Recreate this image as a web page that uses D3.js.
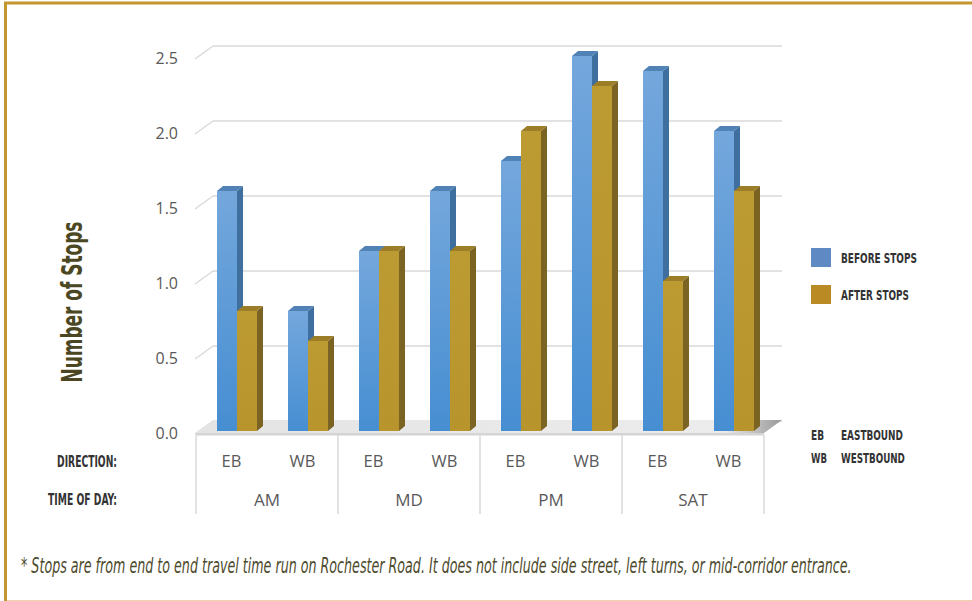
<!DOCTYPE html>
<html>
<head>
<meta charset="utf-8">
<script src="https://cdnjs.cloudflare.com/ajax/libs/d3/7.8.5/d3.min.js"></script>
<style>
  html, body { margin: 0; padding: 0; background: #fff; }
  svg { display: block; }
  .cond { font-family: 'Liberation Sans Narrow', 'DejaVu Sans Condensed', 'Roboto', sans-serif; font-stretch: condensed; }
  .plain { font-family: 'Open Sans', 'Liberation Sans', sans-serif; }
</style>
</head>
<body>
<svg id="chart" width="972" height="601"></svg>
<script>
// Time-of-day periods and travel directions
const periods = ["AM", "MD", "PM", "SAT"];
const directions = ["EB", "WB"];
// Number of stops per period/direction (AM EB, AM WB, MD EB, ...)
const beforeStops = [1.6, 0.8, 1.2, 1.6, 1.8, 2.5, 2.4, 2.0];
const afterStops  = [0.8, 0.6, 1.2, 1.2, 2.0, 2.3, 1.0, 1.6];
const yTicks = [0, 0.5, 1.0, 1.5, 2.0, 2.5];
const seriesNames = ["BEFORE STOPS", "AFTER STOPS"];
const directionNames = [["EB", "EASTBOUND"], ["WB", "WESTBOUND"]];
const footnote = "* Stops are from end to end travel time run on Rochester Road. It does not include side street, left turns, or mid-corridor entrance.";

const svg = d3.select("#chart");
const defs = svg.append("defs");

const keys = periods.flatMap(p => directions.map(d => p + " " + d));

// Scales for the front plane of the 3-D column chart
const x = d3.scaleBand().domain(keys).range([196, 764]).paddingInner(0).paddingOuter(0);
const y = d3.scaleLinear().domain([0, 2.5]).range([433, 58]);

// Perspective offsets
const back = { dx: 18, dy: -13 };   // back wall
const barOff = { dx: 5.5, dy: -2 }; // bar front face relative to front plane
const barDepth = { dx: 6, dy: -5 }; // bar depth
const barW = 20;

// Condensed text: draw at natural width, then squeeze horizontally to the target width
function condText(parent, tx, ty, str, size, width, opts = {}) {
  const g = parent.append("g");
  const t = g.append("text").attr("class", "cond").attr("font-size", size)
    .attr("fill", opts.fill || "#333")
    .attr("font-weight", opts.weight || "normal")
    .attr("font-style", opts.style || "normal")
    .attr("text-anchor", opts.anchor || "start")
    .text(str);
  const w = t.node().getComputedTextLength();
  const sx = width / w;
  g.attr("transform", `translate(${tx},${ty})${opts.rotate ? " rotate(" + opts.rotate + ")" : ""} scale(${sx},1)`);
  return g;
}

// Gradients
function vGrad(id, c0, c1) {
  const g = defs.append("linearGradient").attr("id", id)
    .attr("x1", 0).attr("y1", 0).attr("x2", 0).attr("y2", 1);
  g.append("stop").attr("offset", "0%").attr("stop-color", c0);
  g.append("stop").attr("offset", "100%").attr("stop-color", c1);
}
vGrad("blueFront", "#74a7dc", "#468ed2");
vGrad("goldFront", "#bd9b33", "#b8952c");
const fg = defs.append("linearGradient").attr("id", "floorGrad")
  .attr("x1", 0).attr("y1", 0).attr("x2", 1).attr("y2", 0);
fg.append("stop").attr("offset", "0%").attr("stop-color", "#e4e4e4");
fg.append("stop").attr("offset", "90%").attr("stop-color", "#ececec");
fg.append("stop").attr("offset", "100%").attr("stop-color", "#9a9a9a");

// Frame lines
svg.append("line").attr("x1", 4).attr("x2", 972).attr("y1", 3).attr("y2", 3)
  .attr("stroke", "#c4962f").attr("stroke-width", 3);
svg.append("line").attr("x1", 5.5).attr("x2", 5.5).attr("y1", 2).attr("y2", 601)
  .attr("stroke", "#c4962f").attr("stroke-width", 3);
svg.append("line").attr("x1", 7).attr("x2", 972).attr("y1", 600.5).attr("y2", 600.5)
  .attr("stroke", "#ecd5a8").attr("stroke-width", 1);

// Back-wall gridlines with side-wall diagonals
const xL = x.range()[0], xR = x.range()[1];
const grid = svg.append("g");
yTicks.forEach(t => {
  const yf = y(t) + 1;
  grid.append("line").attr("x1", xL - 1).attr("y1", yf).attr("x2", xL + back.dx - 1).attr("y2", yf + back.dy)
    .attr("stroke", "#d9d9d9").attr("stroke-width", 1.5);
  grid.append("line").attr("x1", xL + back.dx - 1).attr("y1", yf + back.dy).attr("x2", xR + back.dx).attr("y2", yf + back.dy)
    .attr("stroke", "#d9d9d9").attr("stroke-width", 1.5);
});

// Floor plate
const y0 = y(0);
svg.append("polygon")
  .attr("points", [[xL, y0], [xR, y0], [xR + back.dx, y0 + back.dy], [xL + back.dx, y0 + back.dy]].map(p => p.join(",")).join(" "))
  .attr("fill", "url(#floorGrad)");
svg.append("rect").attr("x", xL).attr("y", y0).attr("width", xR - xL).attr("height", 2.5).attr("fill", "#d4d4d4");

// Bars
const colors = {
  blue: { front: "url(#blueFront)", side: "#3f6f9e", top: "#5182b6" },
  gold: { front: "url(#goldFront)", side: "#7b6324", top: "#9d7e28" }
};
const bars = svg.append("g");
function drawBar(x0, v, c) {
  const yt = y(v) + barOff.dy, yb = y0 + barOff.dy;
  const g = bars.append("g");
  g.append("polygon").attr("fill", c.side).attr("points",
    [[x0 + barW, yt], [x0 + barW + barDepth.dx, yt + barDepth.dy], [x0 + barW + barDepth.dx, yb + barDepth.dy], [x0 + barW, yb]].map(p => p.join(",")).join(" "));
  g.append("polygon").attr("fill", c.top).attr("points",
    [[x0, yt], [x0 + barDepth.dx, yt + barDepth.dy], [x0 + barW + barDepth.dx, yt + barDepth.dy], [x0 + barW, yt]].map(p => p.join(",")).join(" "));
  g.append("rect").attr("x", x0).attr("y", yt).attr("width", barW).attr("height", yb - yt).attr("fill", c.front);
}
keys.forEach((k, i) => {
  const cx = x(k) + x.bandwidth() / 2 + barOff.dx;
  drawBar(cx - barW, beforeStops[i], colors.blue);
  drawBar(cx, afterStops[i], colors.gold);
});

// Y axis labels
const yAxis = d3.axisLeft(y).tickValues(yTicks).tickFormat(d3.format(".1f")).tickSize(0).tickPadding(0);
const yg = svg.append("g").attr("transform", "translate(178,0)").call(yAxis);
yg.select(".domain").remove();
yg.selectAll("text").attr("class", "plain").attr("font-size", 16).attr("fill", "#595959").attr("font-family", null);

// Direction labels under each column pair
const xAxis = d3.axisBottom(x).tickFormat(k => k.split(" ")[1]).tickSize(0).tickPadding(0);
const xg = svg.append("g").attr("transform", "translate(0,455)").call(xAxis);
xg.select(".domain").remove();
xg.selectAll("text").attr("font-family", null).attr("class", "plain").attr("font-size", 16.5).attr("fill", "#595959");

// Period labels and dividers
const groupW = x.bandwidth() * directions.length;
periods.forEach(p => {
  const gx = x(p + " EB");
  svg.append("text").attr("class", "plain").attr("x", gx + groupW / 2).attr("y", 506)
    .attr("text-anchor", "middle").attr("font-size", 17).attr("fill", "#595959").text(p);
});
const dividers = periods.map(p => x(p + " EB")).concat([xR]);
dividers.forEach(dx => {
  svg.append("line").attr("x1", dx).attr("x2", dx).attr("y1", y0 + 2).attr("y2", 514)
    .attr("stroke", "#d9d9d9").attr("stroke-width", 1.5);
});

// Row captions
condText(svg, 117, 467, "DIRECTION:", 15, 60, { weight: "bold", anchor: "end" });
condText(svg, 117, 505, "TIME OF DAY:", 15, 69, { weight: "bold", anchor: "end" });

// Y title
condText(svg, 82, 302, "Number of Stops", 28, 161, { weight: "bold", anchor: "middle", rotate: -90, fill: "#4b4722" });

// Legend
const legendColors = ["#5e89c2", "#ba8a24"];
const legendW = [76, 68];
seriesNames.forEach((n, i) => {
  const ly = 248 + i * 37;
  svg.append("rect").attr("x", 811).attr("y", ly).attr("width", 20).attr("height", 19).attr("fill", legendColors[i]);
  condText(svg, 841, ly + 15, n, 13.5, legendW[i], { weight: "bold" });
});
const dirW = [[13, 62], [16, 64]];
directionNames.forEach((d, i) => {
  const ly = 440 + i * 23;
  condText(svg, 811, ly, d[0], 13.5, dirW[i][0], { weight: "bold" });
  condText(svg, 841, ly, d[1], 13.5, dirW[i][1], { weight: "bold" });
});

// Footnote
condText(svg, 21, 573, footnote, 21, 831, { style: "italic", fill: "#4d4a2c" });
</script>
</body>
</html>
